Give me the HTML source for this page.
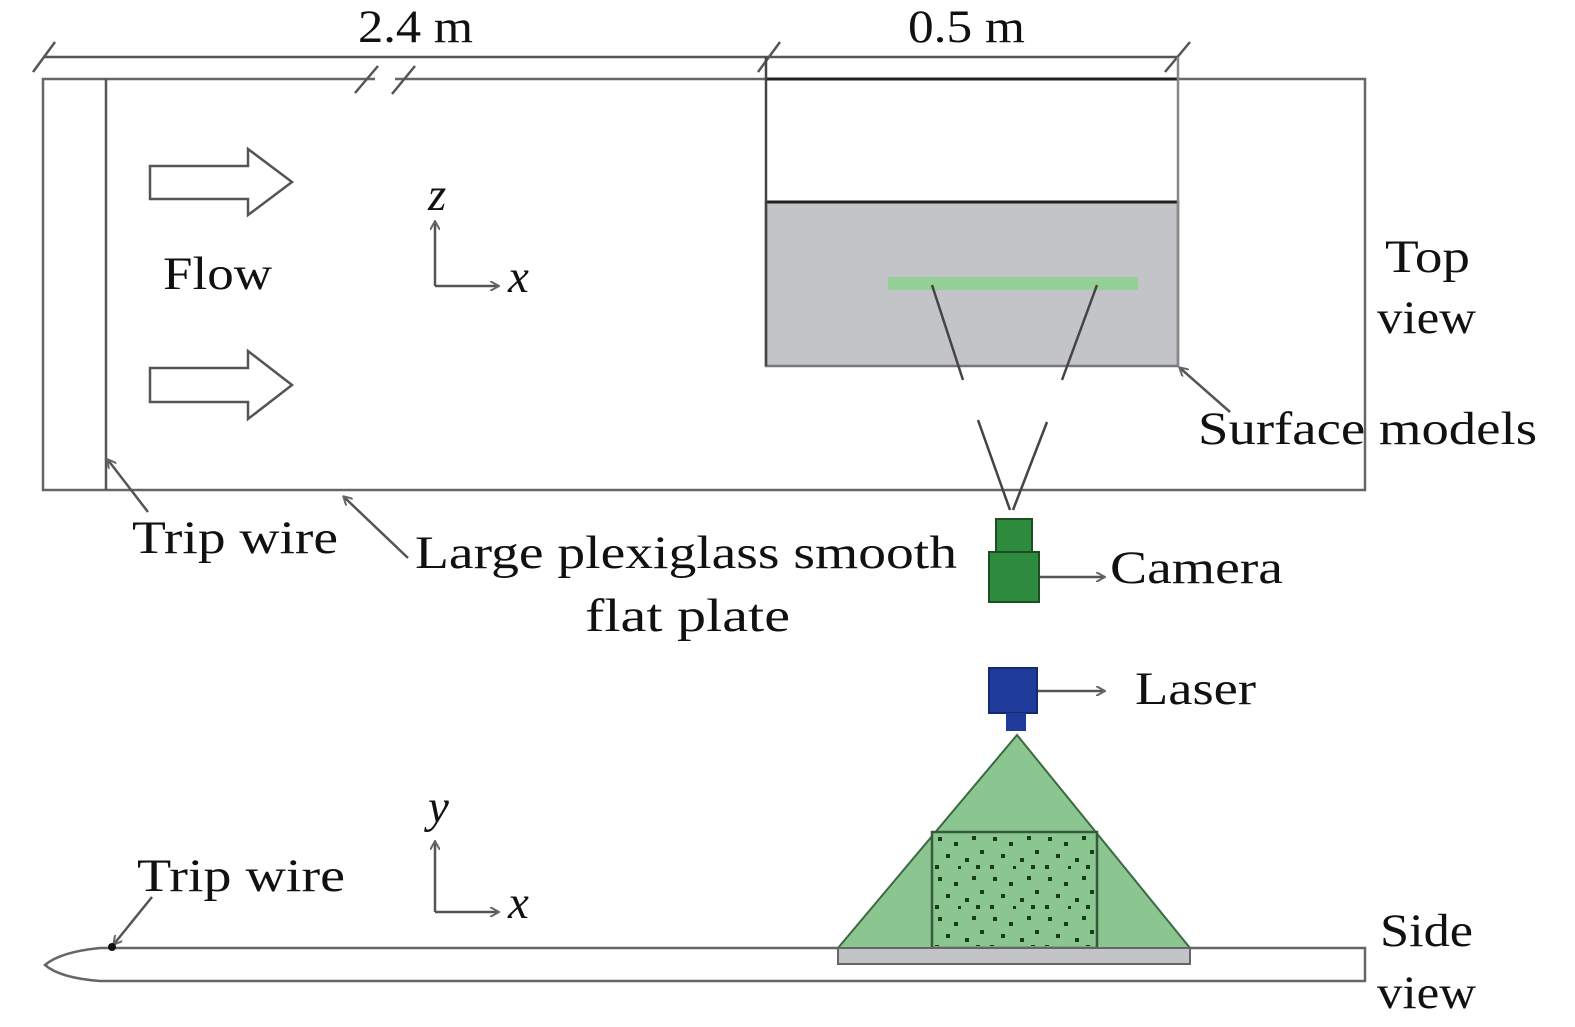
<!DOCTYPE html>
<html><head><meta charset="utf-8"><style>
html,body{margin:0;padding:0;background:#fff;}
svg{display:block;}
text{font-family:"Liberation Serif",serif;font-size:47px;fill:#111;}
</style></head><body>
<svg width="1575" height="1027" viewBox="0 0 1575 1027" xmlns="http://www.w3.org/2000/svg">
<defs>
<marker id="ah" markerWidth="10" markerHeight="10" refX="8" refY="5" orient="auto" markerUnits="userSpaceOnUse">
<path d="M0,0 L9,5 L0,10" fill="none" stroke="#666" stroke-width="2"/>
</marker>
<pattern id="dots" width="55" height="40" patternUnits="userSpaceOnUse" x="932" y="832">
<rect x="6" y="5" width="4" height="4" fill="#1a3a1a"/><rect x="22" y="10" width="4" height="4" fill="#1a3a1a"/>
<rect x="40" y="4" width="4" height="4" fill="#1a3a1a"/><rect x="14" y="22" width="4" height="4" fill="#1a3a1a"/>
<rect x="33" y="26" width="4" height="4" fill="#1a3a1a"/><rect x="48" y="18" width="4" height="4" fill="#1a3a1a"/>
<rect x="3" y="33" width="4" height="4" fill="#1a3a1a"/><rect x="26" y="34" width="3" height="3" fill="#1a3a1a"/>
<rect x="44" y="33" width="4" height="4" fill="#1a3a1a"/>
</pattern>
</defs>
<g stroke="#555" stroke-width="2.5" fill="none">
<line x1="43" y1="57" x2="1178" y2="57"/>
<line x1="33" y1="72" x2="55" y2="42"/>
<line x1="758" y1="72" x2="780" y2="42"/>
<line x1="1165" y1="72" x2="1190" y2="42"/>
<rect x="43" y="79" width="1322" height="411" stroke="#666"/>
<line x1="106" y1="79" x2="106" y2="490"/>
</g>
<g stroke="#fff" stroke-width="10"><line x1="375" y1="79" x2="395" y2="79"/></g>
<g stroke="#555" stroke-width="2.5"><line x1="355" y1="93" x2="378" y2="66"/><line x1="392" y1="94" x2="415" y2="66"/></g>
<rect x="766" y="202" width="412" height="164" fill="#c3c4c8" stroke="#777" stroke-width="2.5"/>
<line x1="766" y1="202" x2="1178" y2="202" stroke="#222" stroke-width="3"/>
<line x1="766" y1="79" x2="1178" y2="79" stroke="#222" stroke-width="3"/>
<line x1="766" y1="57" x2="766" y2="366" stroke="#444" stroke-width="2.5"/>
<line x1="1178" y1="57" x2="1178" y2="366" stroke="#888" stroke-width="2.5"/>
<rect x="888" y="277" width="250" height="13" fill="#8fd08f" opacity="0.9"/>
<g stroke="#444" stroke-width="2.5">
<line x1="932" y1="285" x2="963" y2="380"/><line x1="1097" y1="285" x2="1062" y2="380"/>
<line x1="978" y1="420" x2="1010" y2="510"/><line x1="1047" y1="422" x2="1013" y2="510"/>
</g>
<g fill="#fff" stroke="#555" stroke-width="2.5">
<path d="M150,166 H248 V149 L292,182 L248,215 V199 H150 Z"/>
<path d="M150,368 H248 V351 L292,385 L248,419 V402 H150 Z"/>
</g>
<g stroke="#555" stroke-width="2.5" fill="none">
<line x1="435" y1="286" x2="435" y2="222" marker-end="url(#ah)"/>
<line x1="435" y1="286" x2="498" y2="286" marker-end="url(#ah)"/>
<line x1="435" y1="912" x2="435" y2="842" marker-end="url(#ah)"/>
<line x1="435" y1="912" x2="498" y2="912" marker-end="url(#ah)"/>
<line x1="148" y1="512" x2="108" y2="460" marker-end="url(#ah)"/>
<line x1="408" y1="558" x2="344" y2="497" marker-end="url(#ah)"/>
<line x1="1230" y1="412" x2="1180" y2="368" marker-end="url(#ah)"/>
<line x1="152" y1="897" x2="114" y2="944" marker-end="url(#ah)"/>
<line x1="1040" y1="577" x2="1104" y2="577" marker-end="url(#ah)"/>
<line x1="1038" y1="691" x2="1104" y2="691" marker-end="url(#ah)"/>
</g>
<rect x="996" y="519" width="36" height="33" fill="#2e8b3e" stroke="#1d4d23" stroke-width="2"/>
<rect x="989" y="552" width="50" height="50" fill="#2e8b3e" stroke="#1d4d23" stroke-width="2"/>
<rect x="989" y="668" width="48" height="45" fill="#1f3c9a" stroke="#142a70" stroke-width="2"/>
<rect x="1006" y="713" width="20" height="18" fill="#1f3c9a"/>
<path d="M100,948 H1365 V981 H100 Q60,978 45,965 Q60,952 100,948 Z" fill="#fff" stroke="#666" stroke-width="2.5"/>
<polygon points="1017,735 838,948 1190,948" fill="#8bc58f" stroke="#3a6a42" stroke-width="2"/>
<rect x="932" y="832" width="165" height="116" fill="#8bc58f" stroke="#355c3a" stroke-width="2.5"/>
<rect x="934" y="834" width="161" height="112" fill="url(#dots)"/>
<rect x="838" y="948" width="352" height="16" fill="#c3c4c8" stroke="#666" stroke-width="2"/>
<circle cx="112" cy="947" r="4" fill="#111"/>
<g>
<text x="358" y="42" textLength="115" lengthAdjust="spacingAndGlyphs">2.4 m</text>
<text x="908" y="42" textLength="117" lengthAdjust="spacingAndGlyphs">0.5 m</text>
<text x="163" y="289" textLength="109" lengthAdjust="spacingAndGlyphs">Flow</text>
<text x="428" y="210" font-style="italic">z</text>
<text x="508" y="292" font-style="italic">x</text>
<text x="428" y="822" font-style="italic">y</text>
<text x="508" y="918" font-style="italic">x</text>
<text x="1385" y="272" textLength="85" lengthAdjust="spacingAndGlyphs">Top</text>
<text x="1377" y="333" textLength="99" lengthAdjust="spacingAndGlyphs">view</text>
<text x="1198" y="444" textLength="339" lengthAdjust="spacingAndGlyphs">Surface models</text>
<text x="132" y="553" textLength="206" lengthAdjust="spacingAndGlyphs">Trip wire</text>
<text x="415" y="568" textLength="542" lengthAdjust="spacingAndGlyphs">Large plexiglass smooth</text>
<text x="585" y="631" textLength="205" lengthAdjust="spacingAndGlyphs">flat plate</text>
<text x="1110" y="583" textLength="173" lengthAdjust="spacingAndGlyphs">Camera</text>
<text x="1135" y="704" textLength="121" lengthAdjust="spacingAndGlyphs">Laser</text>
<text x="137" y="891" textLength="208" lengthAdjust="spacingAndGlyphs">Trip wire</text>
<text x="1380" y="946" textLength="93" lengthAdjust="spacingAndGlyphs">Side</text>
<text x="1377" y="1008" textLength="99" lengthAdjust="spacingAndGlyphs">view</text>
</g>
</svg>
</body></html>
